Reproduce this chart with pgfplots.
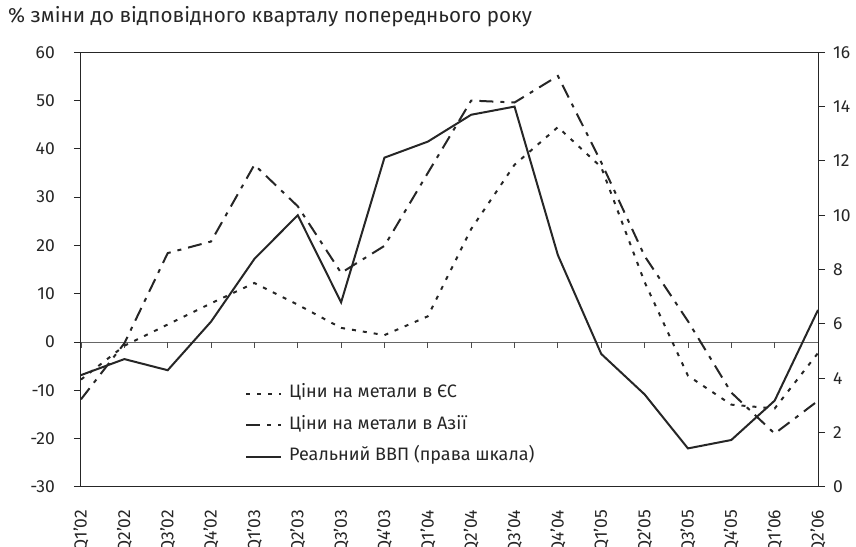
\documentclass[border=0pt]{standalone}
\usepackage{fontspec}
\setmainfont{Fira Sans}
\usepackage{pgfplots}
\usepackage{pgfplotstable}
\pgfplotsset{compat=1.18}
\pgfplotstableread{
x eu asia
0 -7.8 -11.9
1 -0.8 -0.3
2 3.6 18.4
3 8.0 20.8
4 12.2 36.7
5 7.7 28.1
6 2.9 14.3
7 1.4 19.9
8 5.3 35.0
9 23.4 50.0
10 36.7 49.6
11 44.5 55.1
12 36.2 37.2
13 12.4 17.8
14 -7.0 4.3
15 -13.0 -10.5
16 -13.8 -19.0
17 -2.3 -12.2
}\metals
\pgfplotstableread{
x gdp
0 4.11
1 4.70
2 4.29
3 6.08
4 8.39
5 10.00
6 6.79
7 12.12
8 12.71
9 13.70
10 14.00
11 8.53
12 4.89
13 3.40
14 1.41
15 1.72
16 3.17
17 6.51
}\gdp
\tikzset{
  eustyle/.style={line width=2bp, dash pattern=on 4bp off 7bp, color=black!85},
  asiastyle/.style={line width=2bp, dash pattern=on 14bp off 7bp on 4bp off 7bp, color=black!85},
  gdpstyle/.style={line width=2bp, color=black!85},
}
\pgfplotsset{
  every axis/.append style={
    scale only axis, width=737bp, height=434.4bp,
    xmin=0, xmax=17,
    tick align=outside,
    major tick length=7bp,
    tick style={line width=0.8bp, color=black!85},
    every tick label/.append style={font=\fontsize{17.5bp}{20bp}\selectfont, color=black!85},
    /pgf/number format/assume math mode=true,
    axis line style={line width=1bp, color=black!85},
  }
}
\begin{document}
\begin{tikzpicture}
\useasboundingbox (-81bp,-60.3bp) rectangle (775bp,486.7bp);
\begin{axis}[
  ymin=-30, ymax=60,
  ytick={-30,-20,...,60},
  ytick pos=left,
  xtick={0,...,17},
  xtick pos=bottom,
  major x tick style={draw=none},
  xticklabels={Q1’02,Q2’02,Q3’02,Q4’02,Q1’03,Q2’03,Q3’03,Q4’03,Q1’04,Q2’04,Q3’04,Q4’04,Q1’05,Q2’05,Q3’05,Q4’05,Q1’06,Q2’06},
  x tick label style={rotate=90, anchor=east, inner sep=0pt},
  xticklabel shift=16bp,
  y tick label style={inner sep=0pt},
  yticklabel shift=19bp,
  title={\fontsize{20.6bp}{23bp}\selectfont \% зміни до відповідного кварталу попереднього року},
  title style={at={(0,1)}, anchor=base west, xshift=-73bp, yshift=24bp, inner sep=0pt, color=black!85},
]
\draw[line width=0.8bp, color=black!60] (axis cs:0,0) -- (axis cs:17,0);
\pgfplotsinvokeforeach{0,...,17}{
  \draw[line width=0.8bp, color=black!70] (axis cs:#1,0) -- ([yshift=-6bp]axis cs:#1,0);
}
\addplot[eustyle] table[x=x, y=eu] {\metals};
\addplot[asiastyle] table[x=x, y=asia] {\metals};
\end{axis}
\begin{axis}[
  ymin=0, ymax=16,
  ytick={0,2,...,16},
  axis y line*=right,
  axis x line=none,
  y tick label style={inner sep=0pt},
  yticklabel shift=8bp,
  legend cell align=left,
  legend style={at={(0.2225,0.2325)}, anchor=north west, draw=none, fill=none,
    inner sep=0pt, row sep=16bp, column sep=7bp,
    font=\fontsize{18bp}{21bp}\selectfont,
    nodes={inner sep=0pt, text height=12bp, text depth=3.5bp, text=black!85}},
  legend image code/.code={\draw[#1] (0bp,0bp) -- (35bp,0bp);},
]
\addlegendimage{eustyle}
\addlegendimage{asiastyle}
\addplot[gdpstyle] table[x=x, y=gdp] {\gdp};
\legend{Ціни на метали в ЄС, Ціни на метали в Азії, Реальний ВВП (права шкала)}
\end{axis}
\end{tikzpicture}
\end{document}
